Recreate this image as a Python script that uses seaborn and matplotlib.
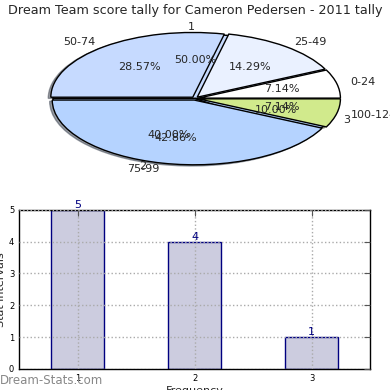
import matplotlib
matplotlib.use('Agg')
import matplotlib.pyplot as plt
import seaborn as sns

# score ranges pie
range_labels = ['0-24', '25-49', '50-74', '75-99', '100-124']
range_counts = [1, 2, 4, 6, 1]
range_colors = ['#ffffff', '#eaf1ff', '#c6daff', '#b5d3ff', '#d1ea8c']

# frequency pie (drawn underneath)
freq_labels = ['1', '2', '3']
freq_counts = [5, 4, 1]
freq_colors = ['#c6daff', '#b5d3ff', '#b5d3ff']

# bar chart
bar_x = [1, 2, 3]
bar_y = [5, 4, 1]

sns.set_style('white')
plt.rcParams['font.family'] = ['DejaVu Sans']

fig = plt.figure(figsize=(3.9, 3.9), dpi=100)

ax1 = fig.add_axes([0.045, 0.54, 0.91, 0.415])
wp = dict(edgecolor='black', linewidth=1)
ax1.pie(freq_counts, labels=freq_labels, colors=freq_colors, autopct='%1.2f%%',
        wedgeprops=wp, textprops=dict(fontsize=8))
ax1.pie(range_counts, labels=range_labels, colors=range_colors, autopct='%1.2f%%',
        explode=[0.025] * 5, shadow={'ox': -0.013, 'oy': -0.013},
        wedgeprops=wp, textprops=dict(fontsize=8))
ax1.set_aspect('auto')
ax1.set_xlim(-1.25, 1.25)
ax1.set_ylim(-1.25, 1.25)
fig.text(0.5, 0.973, 'Dream Team score tally for Cameron Pedersen - 2011 tally',
         ha='center', va='center', fontsize=9.2)

ax2 = fig.add_axes([0.049, 0.054, 0.9, 0.408])
sns.barplot(x=bar_x, y=bar_y, native_scale=True, width=0.45, color='#ccccdf',
            saturation=1, edgecolor='navy', linewidth=1, ax=ax2)
for x, y in zip(bar_x, bar_y):
    ax2.text(x, y, str(y), ha='center', va='bottom', color='navy', fontsize=8)
ax2.set_xlim(0.5, 3.5)
ax2.set_ylim(0, 5)
ax2.set_xticks(bar_x)
ax2.set_yticks(range(6))
ax2.grid(True, color='#aaaaaa', linestyle=':', linewidth=1)
ax2.set_axisbelow(False)
ax2.tick_params(labelsize=6, direction='in', length=4, top=True, right=True,
                colors='#555555', labelcolor='black')
for s in ax2.spines.values():
    s.set_color('black')
    s.set_linewidth(1)
ax2.set_xlabel('Frequency', fontsize=8, labelpad=2)
ax2.set_ylabel('Stat intervals', fontsize=8, labelpad=2)

fig.text(0.0, 0.025, 'Dream-Stats.com', color='#888888', fontsize=8.5,
         ha='left', va='center')

fig.savefig('out.png', dpi=100)
